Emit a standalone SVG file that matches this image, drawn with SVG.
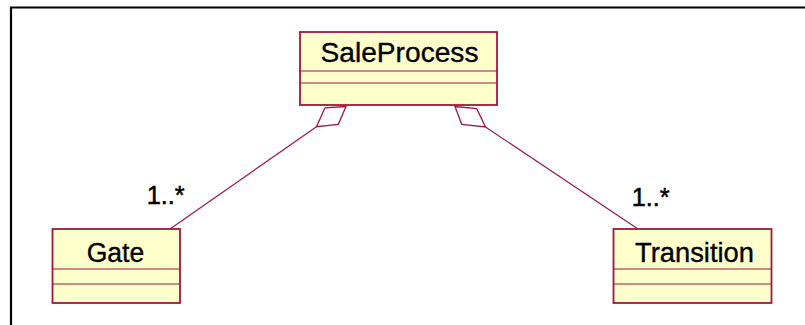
<svg xmlns="http://www.w3.org/2000/svg" width="805" height="325" viewBox="0 0 805 325">
<style>
.box{fill:#FFFFCC;stroke:#A0163F;stroke-width:1.8}
.div{stroke:#A0163F;stroke-width:1.2}
.name{font-family:"Liberation Sans",Arial,sans-serif;font-size:27px;fill:#000;stroke:#000;stroke-width:0.35;text-anchor:middle}
.mult{font-family:"Liberation Sans",Arial,sans-serif;font-size:25px;fill:#000;stroke:#000;stroke-width:0.5}
.conn{stroke:#A0163F;stroke-width:1.2;fill:none}
.dia{fill:#FFFFFF;stroke:#A0163F;stroke-width:1.3}
</style>
<rect width="805" height="325" fill="#FFFFFF"/>
<path d="M11 325 V7.5 H805" fill="none" stroke="#000" stroke-width="2.2"/>
<g id="connectors">
<line class="conn" x1="316.5" y1="126.7" x2="170" y2="229"/>
<polygon class="dia" points="346,106.5 325,107.8 316.5,126.7 338.3,124.3"/>
<line class="conn" x1="485.5" y1="127" x2="638" y2="229"/>
<polygon class="dia" points="455,106.5 476.7,108.6 485.5,127 461.7,124.3"/>
<text class="mult" x="146.7" y="204.3" textLength="38" lengthAdjust="spacingAndGlyphs">1..*</text>
<text class="mult" x="631.7" y="206" textLength="38" lengthAdjust="spacingAndGlyphs">1..*</text>
</g>
<g id="SaleProcess">
<rect class="box" x="300" y="32" width="197" height="73"/>
<line class="div" x1="300" y1="71" x2="497" y2="71"/>
<line class="div" x1="300" y1="83" x2="497" y2="83"/>
<text class="name" x="399.5" y="62.3" textLength="158" lengthAdjust="spacingAndGlyphs">SaleProcess</text>
</g>
<g id="Gate">
<rect class="box" x="52.5" y="229" width="127.5" height="74"/>
<line class="div" x1="52.5" y1="269" x2="180" y2="269"/>
<line class="div" x1="52.5" y1="284" x2="180" y2="284"/>
<text class="name" x="115.5" y="261.7" textLength="57.6" lengthAdjust="spacingAndGlyphs">Gate</text>
</g>
<g id="Transition">
<rect class="box" x="613.5" y="229" width="158" height="74"/>
<line class="div" x1="613.5" y1="269" x2="771.5" y2="269"/>
<line class="div" x1="613.5" y1="284" x2="771.5" y2="284"/>
<text class="name" x="694.5" y="261.7" textLength="119" lengthAdjust="spacingAndGlyphs">Transition</text>
</g>
</svg>
